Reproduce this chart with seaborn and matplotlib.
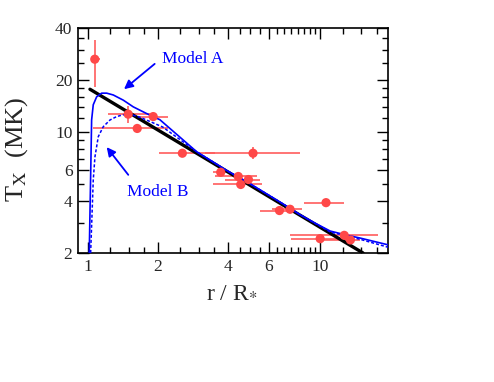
import numpy as np
import pandas as pd
import matplotlib
matplotlib.use("Agg")
import matplotlib.pyplot as plt
import seaborn as sns

# ---- data ----
r_obs = [1.07, 1.49, 1.91, 1.63, 2.55, 5.14, 3.73, 4.44, 4.91, 4.55, 6.68, 7.42, 10.6, 10.0, 12.7, 13.5]
T_obs = [26.4, 12.7, 12.3, 10.5, 7.55, 7.55, 5.86, 5.54, 5.32, 4.98, 3.52, 3.58, 3.91, 2.42, 2.53, 2.38]
r_lo = [1.03, 1.22, 1.60, 1.05, 2.02, 3.19, 3.46, 3.53, 3.90, 3.46, 5.51, 6.21, 8.56, 7.50, 7.42, 10.0]
r_hi = [1.13, 1.85, 2.21, 2.21, 3.53, 8.20, 4.09, 5.35, 5.51, 5.62, 7.57, 8.34, 12.7, 13.0, 17.8, 14.9]
T_lo = [18.2, 11.3, 12.3, 10.0, 7.55, 7.0, 5.86, 5.54, 5.32, 4.98, 3.52, 3.58, 3.91, 2.42, 2.53, 2.38]
T_hi = [34.1, 14.2, 12.3, 11.0, 7.55, 8.2, 5.86, 5.54, 5.32, 4.98, 3.52, 3.58, 3.91, 2.42, 2.53, 2.38]

r_modelA = [1.013, 1.027, 1.037, 1.054, 1.09, 1.146, 1.204, 1.285, 1.42, 1.567, 1.79, 2.04,
            2.94, 4.0, 5.0, 6.5, 8.2, 9.5, 11.04, 12.8, 14.87, 19.6]
T_modelA = [2.0, 5.53, 11.75, 14.4, 16.0, 16.8, 16.8, 16.4, 15.3, 14.0, 12.8, 11.8,
            7.7, 5.95, 5.02, 4.05, 3.33, 2.98, 2.68, 2.55, 2.44, 2.23]
r_modelB = [1.027, 1.054, 1.072, 1.108, 1.164, 1.244, 1.329, 1.42, 1.543, 1.675, 2.10,
            2.94, 4.0, 5.0, 6.5, 8.2, 9.5, 11.04, 12.8, 14.87, 19.6]
T_modelB = [2.0, 5.29, 7.21, 9.42, 10.75, 11.75, 12.3, 12.6, 12.6, 12.2, 10.7,
            7.7, 5.95, 5.02, 4.05, 3.33, 2.97, 2.65, 2.52, 2.40, 2.16]
r_fit = [1.02, 15.3]
T_fit = [17.7, 2.0]

x_major = [1, 2, 4, 6, 10]
x_minor = [1.25, 1.5, 1.75, 2.5, 3, 3.5, 4.5, 5, 5.5, 6.5, 7, 7.5, 8, 8.5, 9, 9.5, 12.5, 15, 17.5]
y_major = [2, 4, 6, 10, 20, 40]
y_minor = [3, 5, 7, 8, 9, 12, 14, 16, 18, 25, 30, 35]

# ---- style ----
sns.set_style("ticks")
plt.rcParams["font.family"] = ["Liberation Serif", "DejaVu Serif"]
plt.rcParams["mathtext.fontset"] = "stix"

fig = plt.figure(figsize=(4.94, 3.82), dpi=100)
ax = fig.add_axes([78/494, 1-253/382, 310/494, 225/382])

red = "#ff4848"
blue = "#0000ff"

obs = pd.DataFrame({"r": r_obs, "T": T_obs})
r_arr = np.array(r_obs); T_arr = np.array(T_obs)
ax.errorbar(r_arr, T_arr,
            xerr=[r_arr - np.array(r_lo), np.array(r_hi) - r_arr],
            yerr=[T_arr - np.array(T_lo), np.array(T_hi) - T_arr],
            fmt="none", ecolor="#ff5c5c", elinewidth=1.2, capsize=0, zorder=2)

sns.lineplot(x=r_fit, y=T_fit, ax=ax, color="black", lw=2.4, sort=False, zorder=3)
sns.lineplot(x=r_modelA, y=T_modelA, ax=ax, color=blue, lw=1.2, sort=False, zorder=4)
sns.lineplot(x=r_modelB, y=T_modelB, ax=ax, color=blue, lw=1.1, sort=False, zorder=4)
ax.lines[-1].set_dashes([2.0, 1.3])

sns.scatterplot(data=obs, x="r", y="T", ax=ax, color=red, s=44, edgecolor="none", zorder=5)

ax.set_xscale("log")
ax.set_yscale("log")
ax.set_xlim(0.906, 19.6)
ax.set_ylim(2, 40)

ax.set_xticks(x_major)
ax.set_xticklabels([str(v) for v in x_major])
ax.set_xticks(x_minor, minor=True)
ax.set_xticklabels([], minor=True)
ax.set_yticks(y_major)
ax.set_yticklabels([str(v) for v in y_major])
ax.set_yticks(y_minor, minor=True)
ax.set_yticklabels([], minor=True)

ax.tick_params(which="both", direction="in", top=True, right=True, labelsize=12.5, width=1.0, color="black")
ax.tick_params(which="major", length=8, pad=4)
ax.tick_params(which="minor", length=4)
for s in ax.spines.values():
    s.set_linewidth(1.2)
    s.set_color("black")

ax.set_xlabel(r"r / R$_{*}$", fontsize=17)
ax.set_ylabel(r"T$_{\rm X}$  (MK)", fontsize=19)
ax.xaxis.set_label_coords(0.497, -0.125)
ax.yaxis.set_label_coords(-0.155, 0.462)

# annotations
ax.annotate("", xy=(1.40, 17.3), xytext=(1.98, 25.4),
            arrowprops=dict(arrowstyle="-|>", color=blue, lw=1.3, mutation_scale=13))
ax.text(2.08, 26.5, "Model A", color=blue, fontsize=12.5, va="center", ha="left")
ax.annotate("", xy=(1.184, 8.43), xytext=(1.517, 5.5),
            arrowprops=dict(arrowstyle="-|>", color=blue, lw=1.3, mutation_scale=13))
ax.text(1.473, 4.51, "Model B", color=blue, fontsize=12.5, va="center", ha="left")

fig.savefig("out.png", dpi=100, facecolor="white")
